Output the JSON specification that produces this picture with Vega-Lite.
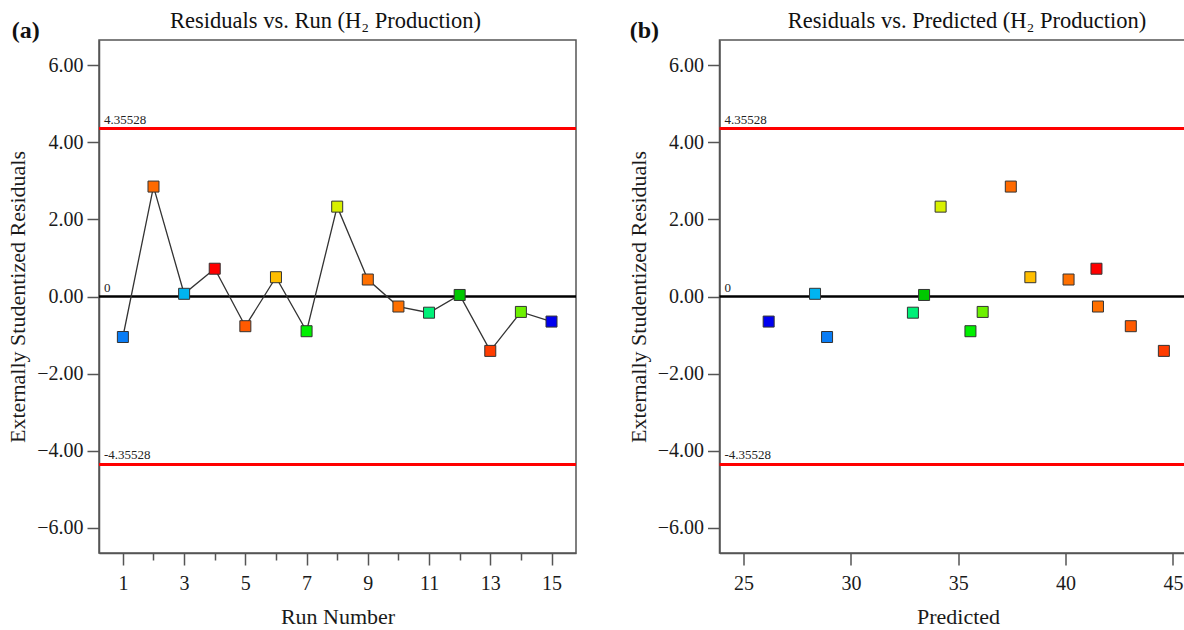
{
  "$schema": "https://vega.github.io/schema/vega-lite/v6.json",
  "padding": {"left": 5, "top": 8, "right": 0, "bottom": 0},
  "bounds": "flush",
  "spacing": 143.5,
  "config": {
    "font": "Liberation Serif",
    "view": {"stroke": "#555", "strokeWidth": 1.5},
    "axis": {"grid": false, "domainColor": "#555", "domainWidth": 1.5, "tickColor": "#555", "tickWidth": 1.5, "tickSize": 12,
      "labelFont": "Liberation Serif", "labelFontSize": 20, "labelColor": "#1a1a1a",
      "titleFont": "Liberation Serif", "titleFontSize": 22, "titleFontWeight": "normal", "titleColor": "#1a1a1a"},
    "axisY": {"labelPadding": 4, "titlePadding": 7},
    "axisX": {"labelPadding": 8, "titlePadding": 13},
    "title": {"font": "Liberation Serif", "fontSize": 22.5, "fontWeight": "normal", "color": "#111", "offset": -13, "baseline": "alphabetic", "frame": "group"}
  },
  "datasets": {
    "pts": [
      {"run": 1, "predicted": 28.89, "resid": -1.05},
      {"run": 2, "predicted": 37.45, "resid": 2.85},
      {"run": 3, "predicted": 28.33, "resid": 0.07},
      {"run": 4, "predicted": 41.44, "resid": 0.72},
      {"run": 5, "predicted": 43.04, "resid": -0.77},
      {"run": 6, "predicted": 38.36, "resid": 0.50},
      {"run": 7, "predicted": 35.57, "resid": -0.90},
      {"run": 8, "predicted": 34.18, "resid": 2.33},
      {"run": 9, "predicted": 40.14, "resid": 0.44},
      {"run": 10, "predicted": 41.51, "resid": -0.26},
      {"run": 11, "predicted": 32.89, "resid": -0.42},
      {"run": 12, "predicted": 33.41, "resid": 0.04},
      {"run": 13, "predicted": 44.58, "resid": -1.41},
      {"run": 14, "predicted": 36.14, "resid": -0.40},
      {"run": 15, "predicted": 26.17, "resid": -0.65}
    ],
    "refs": [{"value": 4.35528, "label": "4.35528"}, {"value": -4.35528, "label": "-4.35528"}],
    "zero": [{"value": 0, "label": "0"}],
    "lbls": [{"value": 4.35528, "label": "4.35528"}, {"value": -4.35528, "label": "-4.35528"}, {"value": 0, "label": "0"}]
  },
  "hconcat": [
    {
      "width": 477, "height": 513,
      "title": {"text": "Residuals vs. Run (H₂ Production)", "dx": -12},
      "resolve": {"axis": {"x": "independent"}},
      "layer": [
        {"data": {"name": "refs"}, "mark": {"type": "rule", "color": "#ff0000", "strokeWidth": 3},
          "encoding": {"y": {"field": "value", "type": "quantitative", "title": "Externally Studentized Residuals", "scale": {"domain": [-6.65, 6.65], "nice": false, "zero": false}}}},
        {"data": {"name": "zero"}, "mark": {"type": "rule", "color": "#000000", "strokeWidth": 2.5},
          "encoding": {"y": {"field": "value", "type": "quantitative", "title": "Externally Studentized Residuals", "scale": {"domain": [-6.65, 6.65], "nice": false, "zero": false}}}},
        {"data": {"name": "lbls"}, "mark": {"type": "text", "align": "left", "baseline": "alphabetic", "dx": 5, "dy": -5, "fontSize": 13, "color": "#222"},
          "encoding": {
            "x": {"datum": 0.22, "type": "quantitative", "axis": null, "scale": {"domain": [0.22, 15.8], "nice": false, "zero": false}},
            "y": {"field": "value", "type": "quantitative", "title": "Externally Studentized Residuals", "scale": {"domain": [-6.65, 6.65], "nice": false, "zero": false}},
            "text": {"field": "label", "type": "nominal"}}},
        {"data": {"name": "pts"}, "mark": {"type": "line", "color": "#333", "strokeWidth": 1.3},
          "encoding": {
            "x": {"field": "run", "type": "quantitative", "scale": {"domain": [0.22, 15.8], "nice": false, "zero": false},
              "axis": {"values": [2, 4, 6, 8, 10, 12, 14], "tickSize": 7, "labels": false, "domain": false, "title": null, "orient": "bottom"}},
            "y": {"field": "resid", "type": "quantitative", "title": "Externally Studentized Residuals", "scale": {"domain": [-6.65, 6.65], "nice": false, "zero": false}}}},
        {"data": {"name": "pts"}, "mark": {"type": "square", "size": 121, "filled": true, "stroke": "#333", "strokeWidth": 1, "opacity": 1},
          "encoding": {
            "x": {"field": "run", "type": "quantitative", "title": "Run Number", "scale": {"domain": [0.22, 15.8], "nice": false, "zero": false},
              "axis": {"values": [1, 3, 5, 7, 9, 11, 13, 15], "orient": "bottom"}},
            "y": {"field": "resid", "type": "quantitative", "title": "Externally Studentized Residuals", "scale": {"domain": [-6.65, 6.65], "nice": false, "zero": false},
              "axis": {"values": [-6, -4, -2, 0, 2, 4, 6], "format": ".2f"}},
            "fill": {"field": "run", "type": "nominal", "legend": null,
              "scale": {"domain": [1, 2, 3, 4, 5, 6, 7, 8, 9, 10, 11, 12, 13, 14, 15],
                "range": ["#0a7df5", "#ff6a00", "#00b4f0", "#ff0000", "#ff5a00", "#ffbe00", "#00f000", "#d8f000", "#ff7000", "#ff7000", "#00f078", "#00c800", "#ff3c00", "#6cf000", "#0000f0"]}}}},
        {"data": {"values": [{"label": "(a)"}]}, "mark": {"type": "text", "align": "left", "baseline": "alphabetic", "fontSize": 24, "fontWeight": "bold", "color": "#111"},
          "encoding": {
            "x": {"datum": -2.63, "type": "quantitative", "axis": null, "scale": {"domain": [0.22, 15.8], "nice": false, "zero": false}},
            "y": {"datum": 6.70, "type": "quantitative", "title": "Externally Studentized Residuals", "scale": {"domain": [-6.65, 6.65], "nice": false, "zero": false}},
            "text": {"field": "label", "type": "nominal"}}}
      ]
    },
    {
      "width": 477, "height": 513,
      "title": {"text": "Residuals vs. Predicted (H₂ Production)", "dx": 9},
      "layer": [
        {"data": {"name": "refs"}, "mark": {"type": "rule", "color": "#ff0000", "strokeWidth": 3},
          "encoding": {"y": {"field": "value", "type": "quantitative", "title": "Externally Studentized Residuals", "scale": {"domain": [-6.65, 6.65], "nice": false, "zero": false}}}},
        {"data": {"name": "zero"}, "mark": {"type": "rule", "color": "#000000", "strokeWidth": 2.5},
          "encoding": {"y": {"field": "value", "type": "quantitative", "title": "Externally Studentized Residuals", "scale": {"domain": [-6.65, 6.65], "nice": false, "zero": false}}}},
        {"data": {"name": "lbls"}, "mark": {"type": "text", "align": "left", "baseline": "alphabetic", "dx": 5, "dy": -5, "fontSize": 13, "color": "#222"},
          "encoding": {
            "x": {"datum": 23.88, "type": "quantitative", "title": "Predicted", "scale": {"domain": [23.88, 46.1], "nice": false, "zero": false}},
            "y": {"field": "value", "type": "quantitative", "title": "Externally Studentized Residuals", "scale": {"domain": [-6.65, 6.65], "nice": false, "zero": false}},
            "text": {"field": "label", "type": "nominal"}}},
        {"data": {"name": "pts"}, "mark": {"type": "square", "size": 121, "filled": true, "stroke": "#333", "strokeWidth": 1, "opacity": 1},
          "encoding": {
            "x": {"field": "predicted", "type": "quantitative", "title": "Predicted", "scale": {"domain": [23.88, 46.1], "nice": false, "zero": false},
              "axis": {"values": [25, 30, 35, 40, 45]}},
            "y": {"field": "resid", "type": "quantitative", "title": "Externally Studentized Residuals", "scale": {"domain": [-6.65, 6.65], "nice": false, "zero": false},
              "axis": {"values": [-6, -4, -2, 0, 2, 4, 6], "format": ".2f"}},
            "fill": {"field": "run", "type": "nominal", "legend": null,
              "scale": {"domain": [1, 2, 3, 4, 5, 6, 7, 8, 9, 10, 11, 12, 13, 14, 15],
                "range": ["#0a7df5", "#ff6a00", "#00b4f0", "#ff0000", "#ff5a00", "#ffbe00", "#00f000", "#d8f000", "#ff7000", "#ff7000", "#00f078", "#00c800", "#ff3c00", "#6cf000", "#0000f0"]}}}},
        {"data": {"values": [{"label": "(b)"}]}, "mark": {"type": "text", "align": "left", "baseline": "alphabetic", "fontSize": 24, "fontWeight": "bold", "color": "#111"},
          "encoding": {
            "x": {"datum": 19.70, "type": "quantitative", "title": "Predicted", "scale": {"domain": [23.88, 46.1], "nice": false, "zero": false}},
            "y": {"datum": 6.70, "type": "quantitative", "title": "Externally Studentized Residuals", "scale": {"domain": [-6.65, 6.65], "nice": false, "zero": false}},
            "text": {"field": "label", "type": "nominal"}}}
      ]
    }
  ]
}
